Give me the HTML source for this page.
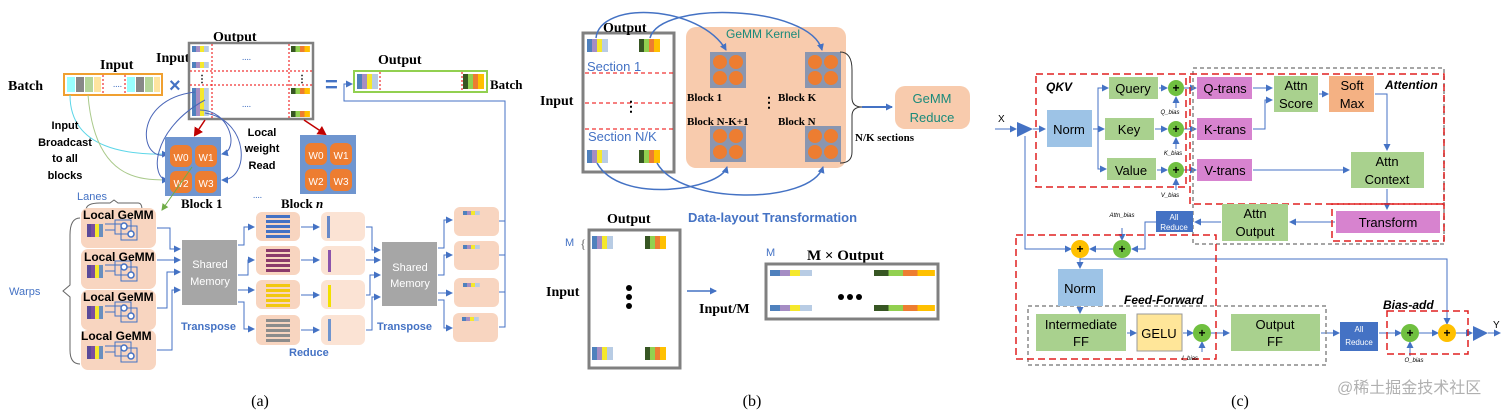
<!DOCTYPE html>
<html><head><meta charset="utf-8"><style>
html,body{margin:0;padding:0;background:#fff;}
svg{display:block;}
.s{font-family:"Liberation Sans",sans-serif;}
.r{font-family:"Liberation Serif",serif;font-weight:bold;}
</style></head><body>
<svg width="1512" height="414" viewBox="0 0 1512 414" xmlns="http://www.w3.org/2000/svg">
<defs>
<marker id="ab" markerWidth="8" markerHeight="8" refX="6" refY="4" orient="auto" markerUnits="userSpaceOnUse"><path d="M0,0.5 L7,4 L0,7.5z" fill="#4472c4"/></marker>
<marker id="ar" markerWidth="10" markerHeight="10" refX="7" refY="5" orient="auto" markerUnits="userSpaceOnUse"><path d="M0,0 L9,5 L0,10z" fill="#c00000"/></marker>
<marker id="ag" markerWidth="8" markerHeight="8" refX="6" refY="4" orient="auto" markerUnits="userSpaceOnUse"><path d="M0,0.5 L7,4 L0,7.5z" fill="#70ad47"/></marker>
<g id="bar4"><rect x="0" y="0" width="5" height="10" fill="#4f81bd"/><rect x="5" y="0" width="5" height="10" fill="#a58dc4"/><rect x="10" y="0" width="5" height="10" fill="#f5e82c"/><rect x="15" y="0" width="6" height="10" fill="#b8cce4"/></g>
<g id="bar4g"><rect x="0" y="0" width="5" height="10" fill="#375623"/><rect x="5" y="0" width="5" height="10" fill="#92d050"/><rect x="10" y="0" width="5" height="10" fill="#ed7d31"/><rect x="15" y="0" width="6" height="10" fill="#ffc000"/></g>
<g id="lg"><rect x="0" y="0" width="75" height="40" rx="7" fill="#f8d5c0"/>
<rect x="6" y="16" width="4" height="13" fill="#5a4a9a"/><rect x="10" y="16" width="4" height="13" fill="#7b4f9e"/><rect x="14" y="16" width="4" height="13" fill="#f5e82c"/><rect x="18" y="16" width="4" height="13" fill="#6a8fbf"/>
<rect x="34" y="12" width="16" height="14" fill="none" stroke="#4472c4"/><rect x="40" y="18" width="16" height="14" fill="none" stroke="#4472c4"/>
<circle cx="43" cy="18" r="3" fill="#fff" stroke="#4472c4" stroke-width="1.5"/><circle cx="50" cy="26" r="3" fill="#fff" stroke="#4472c4" stroke-width="1.5"/>
<path d="M24,16 H40 M24,22 H34" stroke="#4472c4" fill="none"/></g>
<g id="blk"><rect x="0" y="0" width="36" height="36" fill="#8a96b0"/><circle cx="10" cy="10" r="7" fill="#ed7d31"/><circle cx="26" cy="10" r="7" fill="#ed7d31"/><circle cx="10" cy="26" r="7" fill="#ed7d31"/><circle cx="26" cy="26" r="7" fill="#ed7d31"/></g>
<g id="wb"><rect x="0" y="0" width="56" height="59" fill="#6f95cf"/>
<rect x="5" y="8" width="22" height="22" rx="6" fill="#ed7d31"/><rect x="30" y="8" width="22" height="22" rx="6" fill="#ed7d31"/>
<rect x="5" y="34" width="22" height="22" rx="6" fill="#ed7d31"/><rect x="30" y="34" width="22" height="22" rx="6" fill="#ed7d31"/>
<text x="16" y="24" fill="#fff" font-size="10" text-anchor="middle" class="s">W0</text><text x="41" y="24" fill="#fff" font-size="10" text-anchor="middle" class="s">W1</text>
<text x="16" y="50" fill="#fff" font-size="10" text-anchor="middle" class="s">W2</text><text x="41" y="50" fill="#fff" font-size="10" text-anchor="middle" class="s">W3</text></g>
</defs>

<!-- ============ PANEL A ============ -->
<text x="8" y="90" class="r" font-size="14">Batch</text>
<text x="100" y="69" class="r" font-size="14">Input</text>
<rect x="64" y="74" width="98" height="21" fill="#fff" stroke="#f0a030" stroke-width="2"/>
<rect x="67" y="77" width="8" height="15" fill="#9ff"/><rect x="76" y="77" width="8" height="15" fill="#888"/><rect x="85" y="77" width="8" height="15" fill="#b5d59a"/><rect x="94" y="77" width="7" height="15" fill="#fde4a0"/>
<text x="113" y="87" font-size="9" fill="#4472c4">....</text>
<line x1="103" y1="75" x2="103" y2="95" stroke="#e00" stroke-dasharray="2,2"/><line x1="125" y1="75" x2="125" y2="95" stroke="#e00" stroke-dasharray="2,2"/>
<rect x="127" y="77" width="8" height="15" fill="#9ff"/><rect x="136" y="77" width="8" height="15" fill="#888"/><rect x="145" y="77" width="8" height="15" fill="#b5d59a"/><rect x="154" y="77" width="6" height="15" fill="#fde4a0"/>
<text x="169" y="92" font-size="20" fill="#4472c4" class="s" font-weight="bold">×</text>
<text x="156" y="62" class="r" font-size="14">Input</text>
<text x="213" y="41" class="r" font-size="14">Output</text>
<rect x="189" y="43" width="124" height="76" fill="#fff" stroke="#808080" stroke-width="2.5"/>
<line x1="212" y1="44" x2="212" y2="118" stroke="#e00" stroke-dasharray="2,2"/><line x1="289" y1="44" x2="289" y2="118" stroke="#e00" stroke-dasharray="2,2"/>
<line x1="190" y1="71" x2="312" y2="71" stroke="#e00" stroke-dasharray="2,2"/><line x1="190" y1="85" x2="312" y2="85" stroke="#e00" stroke-dasharray="2,2"/>
<g transform="translate(192,46) scale(0.8,0.6)"><use href="#bar4"/></g><g transform="translate(192,62) scale(0.8,0.6)"><use href="#bar4"/></g>
<g transform="translate(192,88) scale(0.8,2.8)"><use href="#bar4"/></g>
<g transform="translate(291,46) scale(0.9,0.6)"><use href="#bar4g"/></g><g transform="translate(291,88) scale(0.9,0.6)"><use href="#bar4g"/></g><g transform="translate(291,111) scale(0.9,0.6)"><use href="#bar4g"/></g>
<text x="242" y="60" font-size="9" fill="#4472c4">....</text><text x="242" y="107" font-size="9" fill="#4472c4">....</text>
<text x="197" y="82" font-size="10" font-weight="bold">⋮</text><text x="297" y="82" font-size="10" font-weight="bold">⋮</text>
<text x="325" y="92" font-size="22" fill="#4472c4" class="s" font-weight="bold">=</text>
<text x="378" y="64" class="r" font-size="14">Output</text>
<rect x="354" y="71" width="133" height="21" fill="#fff" stroke="#92d050" stroke-width="2"/>
<g transform="translate(357,74) scale(1,1.5)"><use href="#bar4"/></g>
<g transform="translate(463,74) scale(1,1.5)"><use href="#bar4g"/></g>
<line x1="380" y1="72" x2="380" y2="91" stroke="#e00" stroke-dasharray="2,2"/><line x1="462" y1="72" x2="462" y2="91" stroke="#e00" stroke-dasharray="2,2"/>
<text x="490" y="89" class="r" font-size="13">Batch</text>
<path d="M505,221 V101 H344 V84 H352" stroke="#4472c4" fill="none" marker-end="url(#ab)"/>

<!-- curves input broadcast -->
<path d="M70,95 C70,150 130,155 168,154" stroke="#5cd6e8" fill="none" marker-end="url(#ab)"/>
<path d="M88,95 C95,180 140,180 168,180" stroke="#a9c98a" fill="none" marker-end="url(#ab)"/>
<path d="M195,92 C130,100 140,165 168,154" stroke="#4a66b8" fill="none"/>
<path d="M205,100 C150,130 150,180 168,180" stroke="#4a66b8" fill="none"/>
<path d="M200,110 C230,110 240,150 222,154" stroke="#4a66b8" fill="none" marker-end="url(#ab)"/>
<path d="M205,113 C250,120 250,180 222,180" stroke="#4a66b8" fill="none" marker-end="url(#ab)"/>
<path d="M205,120 L195,135" stroke="#c00000" stroke-width="1.5" marker-end="url(#ar)"/>
<path d="M304,120 L325,134" stroke="#c00000" stroke-width="1.5" marker-end="url(#ar)"/>
<use href="#wb" x="165" y="137"/>
<use href="#wb" x="300" y="135"/>
<path d="M192,167 L162,210" stroke="#70ad47" marker-end="url(#ag)"/>
<text x="65" y="129" text-anchor="middle" class="s" font-size="11" font-weight="bold">Input</text>
<text x="65" y="146" text-anchor="middle" class="s" font-size="11" font-weight="bold">Broadcast</text>
<text x="65" y="162" text-anchor="middle" class="s" font-size="11" font-weight="bold">to all</text>
<text x="65" y="179" text-anchor="middle" class="s" font-size="11" font-weight="bold">blocks</text>
<text x="262" y="136" text-anchor="middle" class="s" font-size="11" font-weight="bold">Local</text>
<text x="262" y="152" text-anchor="middle" class="s" font-size="11" font-weight="bold">weight</text>
<text x="262" y="169" text-anchor="middle" class="s" font-size="11" font-weight="bold">Read</text>
<text x="181" y="208" class="r" font-size="13">Block 1</text>
<text x="281" y="208" class="r" font-size="13">Block <tspan font-style="italic">n</tspan></text>
<text x="253" y="198" font-size="9" fill="#4472c4">....</text>
<text x="77" y="200" class="s" font-size="11" fill="#4472c4">Lanes</text>
<path d="M86,210 Q86,203 100,203 L110,203 L114,200 L118,203 L138,203 Q142,203 142,210" stroke="#666" fill="none"/>
<text x="9" y="295" class="s" font-size="11" fill="#4472c4">Warps</text>
<path d="M80,218 Q70,218 70,235 L70,285 L63,291 L70,297 L70,350 Q70,364 80,364" stroke="#666" fill="none"/>
<use href="#lg" x="81" y="208"/><use href="#lg" x="81" y="249"/><use href="#lg" x="81" y="290"/><use href="#lg" x="81" y="330"/>
<g class="s" font-size="12" font-weight="bold"><text x="83" y="219">Local GeMM</text><text x="84" y="261">Local GeMM</text><text x="83" y="301">Local GeMM</text><text x="81" y="340">Local GeMM</text></g>
<g stroke="#4472c4" fill="none">
<path d="M157,228 H170 V249 H180" marker-end="url(#ab)"/><path d="M157,260 H180" marker-end="url(#ab)"/>
<path d="M157,308 H167 V272 H180" marker-end="url(#ab)"/><path d="M157,350 H172 V290 H180" marker-end="url(#ab)"/>
<path d="M238,245 H244 V227 H254" marker-end="url(#ab)"/><path d="M238,275 H248 V260 H254" marker-end="url(#ab)"/>
<path d="M238,290 H254" marker-end="url(#ab)"/><path d="M238,302 H244 V329 H254" marker-end="url(#ab)"/>
<path d="M301,227 H319" marker-end="url(#ab)"/><path d="M301,260 H319" marker-end="url(#ab)"/><path d="M301,295 H319" marker-end="url(#ab)"/><path d="M301,330 H319" marker-end="url(#ab)"/>
<path d="M366,227 H372 V250 H380" marker-end="url(#ab)"/><path d="M366,260 H380" marker-end="url(#ab)"/>
<path d="M366,295 H370 V275 H380" marker-end="url(#ab)"/><path d="M366,330 H372 V297 H380" marker-end="url(#ab)"/>
<path d="M438,248 H444 V220 H452" marker-end="url(#ab)"/><path d="M438,275 H444 V255 H452" marker-end="url(#ab)"/>
<path d="M438,293 H452" marker-end="url(#ab)"/><path d="M438,300 H444 V328 H452" marker-end="url(#ab)"/>
<path d="M499,221 H505 M499,255 H505 M499,292 H505 M499,327 H505 V221"/>
</g>
<rect x="182" y="240" width="55" height="65" fill="#a6a6a6"/>
<text x="210" y="268" text-anchor="middle" fill="#fff" class="s" font-size="11">Shared</text><text x="210" y="285" text-anchor="middle" fill="#fff" class="s" font-size="11">Memory</text>
<text x="181" y="330" class="s" font-size="11" font-weight="bold" fill="#4472c4">Transpose</text>
<rect x="382" y="242" width="55" height="64" fill="#a6a6a6"/>
<text x="410" y="271" text-anchor="middle" fill="#fff" class="s" font-size="11">Shared</text><text x="410" y="287" text-anchor="middle" fill="#fff" class="s" font-size="11">Memory</text>
<text x="377" y="330" class="s" font-size="11" font-weight="bold" fill="#4472c4">Transpose</text>
<text x="289" y="356" class="s" font-size="11" font-weight="bold" fill="#4472c4">Reduce</text>
<!-- middle boxes -->
<g>
<rect x="256" y="212" width="44" height="29" rx="6" fill="#f8d5c0"/><rect x="256" y="246" width="44" height="29" rx="6" fill="#f8d5c0"/><rect x="256" y="280" width="44" height="29" rx="6" fill="#f8d5c0"/><rect x="256" y="315" width="44" height="30" rx="6" fill="#f8d5c0"/>
<g fill="#4472c4"><rect x="266" y="215" width="24" height="3"/><rect x="266" y="220" width="24" height="3"/><rect x="266" y="225" width="24" height="3"/><rect x="266" y="230" width="24" height="3"/><rect x="266" y="235" width="24" height="3"/></g>
<g fill="#8b3a6b"><rect x="266" y="249" width="24" height="3"/><rect x="266" y="254" width="24" height="3"/><rect x="266" y="259" width="24" height="3"/><rect x="266" y="264" width="24" height="3"/><rect x="266" y="269" width="24" height="3"/></g>
<g fill="#f2c80f"><rect x="266" y="284" width="24" height="3"/><rect x="266" y="289" width="24" height="3"/><rect x="266" y="294" width="24" height="3"/><rect x="266" y="299" width="24" height="3"/><rect x="266" y="304" width="24" height="3"/></g>
<g fill="#8c8c8c"><rect x="266" y="319" width="24" height="3"/><rect x="266" y="324" width="24" height="3"/><rect x="266" y="329" width="24" height="3"/><rect x="266" y="334" width="24" height="3"/><rect x="266" y="339" width="24" height="3"/></g>
<rect x="321" y="212" width="44" height="29" rx="6" fill="#fbe3d4"/><rect x="321" y="246" width="44" height="29" rx="6" fill="#fbe3d4"/><rect x="321" y="280" width="44" height="29" rx="6" fill="#fbe3d4"/><rect x="321" y="315" width="44" height="30" rx="6" fill="#fbe3d4"/>
<rect x="327" y="216" width="3" height="22" fill="#4472c4" opacity="0.8"/><rect x="328" y="250" width="3" height="22" fill="#7030a0" opacity="0.8"/><rect x="328" y="285" width="3" height="22" fill="#f2e000"/><rect x="328" y="319" width="3" height="22" fill="#6f95cf"/>
<rect x="454" y="207" width="45" height="29" rx="6" fill="#f8d5c0"/><rect x="454" y="241" width="45" height="29" rx="6" fill="#f8d5c0"/><rect x="454" y="278" width="45" height="29" rx="6" fill="#f8d5c0"/><rect x="453" y="313" width="45" height="29" rx="6" fill="#f8d5c0"/>
<g transform="translate(463,211) scale(0.8,0.4)"><use href="#bar4"/></g><g transform="translate(463,245) scale(0.8,0.4)"><use href="#bar4"/></g><g transform="translate(463,283) scale(0.8,0.4)"><use href="#bar4"/></g><g transform="translate(462,317) scale(0.8,0.4)"><use href="#bar4"/></g>
</g>
<text x="260" y="406" text-anchor="middle" font-family="Liberation Serif,serif" font-size="16">(a)</text>

<!-- ============ PANEL B ============ -->
<rect x="686" y="27" width="160" height="141" rx="10" fill="#f8cbad"/>
<text x="763" y="38" text-anchor="middle" class="s" font-size="12" fill="#1a8a7a">GeMM Kernel</text>
<use href="#blk" x="710" y="52"/><use href="#blk" x="805" y="52"/><use href="#blk" x="710" y="126"/><use href="#blk" x="805" y="126"/>
<g class="r" font-size="11"><text x="687" y="101">Block 1</text><text x="778" y="101">Block K</text><text x="687" y="125">Block N-K+1</text><text x="778" y="125">Block N</text></g>
<text x="762" y="107" font-size="14" font-weight="bold">⋮</text>
<rect x="583" y="33" width="91" height="139" fill="#fff" stroke="#808080" stroke-width="3"/>
<g transform="translate(587,39) scale(1,1.3)"><use href="#bar4"/></g><g transform="translate(639,39) scale(1,1.3)"><use href="#bar4g"/></g>
<g transform="translate(587,150) scale(1,1.3)"><use href="#bar4"/></g><g transform="translate(639,150) scale(1,1.3)"><use href="#bar4g"/></g>
<g stroke="#e00" stroke-dasharray="4,3"><line x1="585" y1="73" x2="673" y2="73"/><line x1="585" y1="103" x2="673" y2="103"/><line x1="585" y1="129" x2="673" y2="129"/></g>
<text x="587" y="71" class="s" font-size="13" fill="#4472c4">Section 1</text>
<text x="588" y="141" class="s" font-size="13" fill="#4472c4">Section N/K</text>
<text x="624" y="111" font-size="14" font-weight="bold">⋮</text>
<text x="603" y="32" class="r" font-size="14">Output</text>
<text x="540" y="105" class="r" font-size="14">Input</text>
<g stroke="#4472c4" stroke-width="1.5" fill="none">
<path d="M596,38 C600,0 700,5 726,50" marker-end="url(#ab)"/>
<path d="M650,38 C660,0 810,5 822,50" marker-end="url(#ab)"/>
<path d="M597,163 C620,205 720,190 727,167" marker-end="url(#ab)"/>
<path d="M657,163 C680,205 810,205 823,167" marker-end="url(#ab)"/>
</g>
<path d="M840,52 Q852,52 852,70 L852,98 Q852,107 862,107 Q852,107 852,116 L852,152 Q852,163 840,163" stroke="#333" fill="none"/>
<path d="M862,107 H892" stroke="#4472c4" stroke-width="2" marker-end="url(#ab)"/>
<rect x="895" y="86" width="75" height="43" rx="10" fill="#f8cbad"/>
<text x="932" y="103" text-anchor="middle" class="s" font-size="13" fill="#1a8a7a">GeMM</text>
<text x="932" y="122" text-anchor="middle" class="s" font-size="13" fill="#1a8a7a">Reduce</text>
<text x="855" y="141" class="r" font-size="11">N/K sections</text>
<text x="688" y="222" class="s" font-size="13" font-weight="bold" fill="#4472c4">Data-layout Transformation</text>
<text x="607" y="223" class="r" font-size="14">Output</text>
<rect x="589" y="230" width="91" height="138" fill="#fff" stroke="#808080" stroke-width="3"/>
<g transform="translate(592,236) scale(1,1.3)"><use href="#bar4"/></g><g transform="translate(645,236) scale(1,1.3)"><use href="#bar4g"/></g>
<g transform="translate(592,347) scale(1,1.3)"><use href="#bar4"/></g><g transform="translate(645,347) scale(1,1.3)"><use href="#bar4g"/></g>
<circle cx="629" cy="288" r="3"/><circle cx="629" cy="297" r="3"/><circle cx="629" cy="306" r="3"/>
<text x="565" y="246" class="s" font-size="11" fill="#4472c4">M</text><text x="580" y="248" font-size="13" fill="#666">{</text>
<text x="546" y="296" class="r" font-size="14">Input</text>
<path d="M687,291 H716" stroke="#4472c4" stroke-width="1.5" marker-end="url(#ab)"/>
<text x="699" y="313" class="r" font-size="14">Input/M</text>
<text x="766" y="256" class="s" font-size="11" fill="#4472c4">M</text>
<text x="807" y="260" class="r" font-size="15">M × Output</text>
<rect x="766" y="264" width="172" height="55" fill="#fff" stroke="#808080" stroke-width="3"/>
<g transform="translate(770,270) scale(2,0.6)"><use href="#bar4"/></g><g transform="translate(874,270) scale(2.9,0.6)"><use href="#bar4g"/></g>
<g transform="translate(770,305) scale(2,0.6)"><use href="#bar4"/></g><g transform="translate(874,305) scale(2.9,0.6)"><use href="#bar4g"/></g>
<circle cx="841" cy="297" r="3"/><circle cx="850" cy="297" r="3"/><circle cx="859" cy="297" r="3"/>
<text x="752" y="406" text-anchor="middle" font-family="Liberation Serif,serif" font-size="16">(b)</text>

<!-- ============ PANEL C ============ -->
<g stroke="#4472c4" fill="none">
<path d="M995,129 H1016" marker-end="url(#ab)"/>
<path d="M1033,129 H1045" marker-end="url(#ab)"/>
<path d="M1093,129 H1104" marker-end="url(#ab)"/>
<path d="M1098,129 V88 H1107 M1098,129 V169 H1105" /><path d="M1100,88 H1108" marker-end="url(#ab)"/><path d="M1100,169 H1106" marker-end="url(#ab)"/>
<path d="M1159,88 H1167" marker-end="url(#ab)"/><path d="M1155,129 H1167" marker-end="url(#ab)"/><path d="M1157,170 H1167" marker-end="url(#ab)"/>
<path d="M1176,108 V97" marker-end="url(#ab)"/><path d="M1176,149 V138" marker-end="url(#ab)"/><path d="M1176,190 V179" marker-end="url(#ab)"/>
<path d="M1184,88 H1196" marker-end="url(#ab)"/><path d="M1184,129 H1196" marker-end="url(#ab)"/><path d="M1184,170 H1196" marker-end="url(#ab)"/>
<path d="M1253,88 H1272" marker-end="url(#ab)"/><path d="M1253,129 H1265 V100 H1272" marker-end="url(#ab)"/>
<path d="M1319,94 H1328" marker-end="url(#ab)"/>
<path d="M1375,94 H1387 V150" marker-end="url(#ab)"/>
<path d="M1253,170 H1349" marker-end="url(#ab)"/>
<path d="M1387,189 V209" marker-end="url(#ab)"/>
<path d="M1335,222 H1290" marker-end="url(#ab)"/>
<path d="M1221,222 H1195" marker-end="url(#ab)"/>
<path d="M1156,222 H1145 V249 H1132" marker-end="url(#ab)"/>
<path d="M1122,228 V240" marker-end="url(#ab)"/>
<path d="M1113,249 H1090" marker-end="url(#ab)"/>
<path d="M1025,136 V249 H1071" marker-end="url(#ab)"/>
<path d="M1080,258 V268" marker-end="url(#ab)"/>
<path d="M1080,259 H1447 V324" marker-end="url(#ab)"/>
<path d="M1080,307 V313" marker-end="url(#ab)"/>
<path d="M1127,333 H1136" marker-end="url(#ab)"/>
<path d="M1183,333 H1193" marker-end="url(#ab)"/>
<path d="M1202,352 V342" marker-end="url(#ab)"/>
<path d="M1211,333 H1229" marker-end="url(#ab)"/>
<path d="M1321,333 H1339" marker-end="url(#ab)"/>
<path d="M1379,333 H1401" marker-end="url(#ab)"/>
<path d="M1419,333 H1438" marker-end="url(#ab)"/>
<path d="M1410,356 V342" marker-end="url(#ab)"/>
<path d="M1456,333 H1472" marker-end="url(#ab)"/>
<path d="M1488,333 H1500" marker-end="url(#ab)"/>
</g>
<text x="998" y="122" class="s" font-size="10">X</text>
<path d="M1017,122 L1033,129 L1017,137z" fill="#4472c4"/>
<path d="M1473,326 L1488,333 L1473,341z" fill="#4472c4"/>
<text x="1493" y="328" class="s" font-size="10">Y</text>
<!-- dashed frames -->
<g fill="none" stroke-width="1.5">
<rect x="1193" y="68" width="251" height="176" stroke="#888" stroke-dasharray="4,3"/>
<rect x="1028" y="306" width="298" height="59" stroke="#888" stroke-dasharray="4,3"/>
<rect x="1036" y="74" width="150" height="113" stroke="#e02020" stroke-dasharray="7,4"/>
<rect x="1190" y="74" width="254" height="130" stroke="#e02020" stroke-dasharray="7,4"/>
<rect x="1332" y="204" width="112" height="37" stroke="#e02020" stroke-dasharray="7,4"/>
<rect x="1016" y="235" width="200" height="124" stroke="#e02020" stroke-dasharray="7,4"/>
<rect x="1387" y="311" width="81" height="43" stroke="#e02020" stroke-dasharray="7,4"/>
</g>
<g class="s" font-style="italic" font-weight="bold" font-size="12"><text x="1046" y="91">QKV</text><text x="1385" y="89">Attention</text><text x="1124" y="304">Feed-Forward</text><text x="1383" y="309">Bias-add</text></g>
<g class="s" font-size="13" text-anchor="middle">
<rect x="1047" y="110" width="45" height="37" fill="#9dc3e6"/><text x="1069" y="134">Norm</text>
<rect x="1109" y="77" width="49" height="22" fill="#a9d18e"/><text x="1133" y="93">Query</text>
<rect x="1105" y="118" width="49" height="22" fill="#a9d18e"/><text x="1129" y="134">Key</text>
<rect x="1107" y="158" width="49" height="22" fill="#a9d18e"/><text x="1131" y="175">Value</text>
<rect x="1197" y="77" width="55" height="22" fill="#d783cf"/><text x="1225" y="93">Q-trans</text>
<rect x="1197" y="118" width="55" height="22" fill="#d783cf"/><text x="1225" y="134">K-trans</text>
<rect x="1197" y="159" width="55" height="22" fill="#d783cf"/><text x="1225" y="175">V-trans</text>
<rect x="1274" y="76" width="44" height="36" fill="#a9d18e"/><text x="1296" y="90">Attn</text><text x="1296" y="108">Score</text>
<rect x="1329" y="76" width="45" height="36" fill="#f4b183"/><text x="1352" y="90">Soft</text><text x="1352" y="108">Max</text>
<rect x="1351" y="152" width="73" height="36" fill="#a9d18e"/><text x="1387" y="166">Attn</text><text x="1387" y="184">Context</text>
<rect x="1336" y="211" width="104" height="22" fill="#d783cf"/><text x="1388" y="227">Transform</text>
<rect x="1222" y="204" width="66" height="37" fill="#a9d18e"/><text x="1255" y="218">Attn</text><text x="1255" y="236">Output</text>
<rect x="1058" y="269" width="45" height="37" fill="#9dc3e6"/><text x="1080" y="293">Norm</text>
<rect x="1036" y="314" width="90" height="37" fill="#a9d18e"/><text x="1081" y="329">Intermediate</text><text x="1081" y="346">FF</text>
<rect x="1137" y="314" width="45" height="37" fill="#ffe699" stroke="#999"/><text x="1159" y="338">GELU</text>
<rect x="1231" y="314" width="89" height="37" fill="#a9d18e"/><text x="1275" y="329">Output</text><text x="1275" y="346">FF</text>
</g>
<g class="s" font-size="8" fill="#fff" text-anchor="middle">
<rect x="1156" y="211" width="37" height="21" fill="#4472c4"/><text x="1174" y="220">All</text><text x="1174" y="230">Reduce</text>
<rect x="1340" y="322" width="38" height="29" fill="#4472c4"/><text x="1359" y="332">All</text><text x="1359" y="345">Reduce</text>
</g>
<g class="s" font-size="12" font-weight="bold" text-anchor="middle">
<circle cx="1176" cy="88" r="8" fill="#70c040"/><text x="1176" y="92">+</text>
<circle cx="1176" cy="129" r="8" fill="#70c040"/><text x="1176" y="133">+</text>
<circle cx="1176" cy="170" r="8" fill="#70c040"/><text x="1176" y="174">+</text>
<circle cx="1122" cy="249" r="9" fill="#70c040"/><text x="1122" y="253">+</text>
<circle cx="1080" cy="249" r="9" fill="#ffc000"/><text x="1080" y="253">+</text>
<circle cx="1202" cy="333" r="9" fill="#70c040"/><text x="1202" y="337">+</text>
<circle cx="1410" cy="333" r="9" fill="#70c040"/><text x="1410" y="337">+</text>
<circle cx="1447" cy="333" r="9" fill="#ffc000"/><text x="1447" y="337">+</text>
</g>
<g class="s" font-size="6" font-style="italic" text-anchor="middle">
<text x="1170" y="114">Q_bias</text><text x="1173" y="155">K_bias</text><text x="1170" y="197">V_bias</text>
<text x="1122" y="217">Attn_bias</text><text x="1190" y="360">I_bias</text><text x="1414" y="362">O_bias</text>
</g>
<text x="1240" y="406" text-anchor="middle" font-family="Liberation Serif,serif" font-size="16">(c)</text>
<text x="1337" y="393" font-family="Liberation Sans,'Noto Sans CJK SC',sans-serif" font-size="16" fill="#b0b0b0">@稀土掘金技术社区</text>
</svg>
</body></html>
